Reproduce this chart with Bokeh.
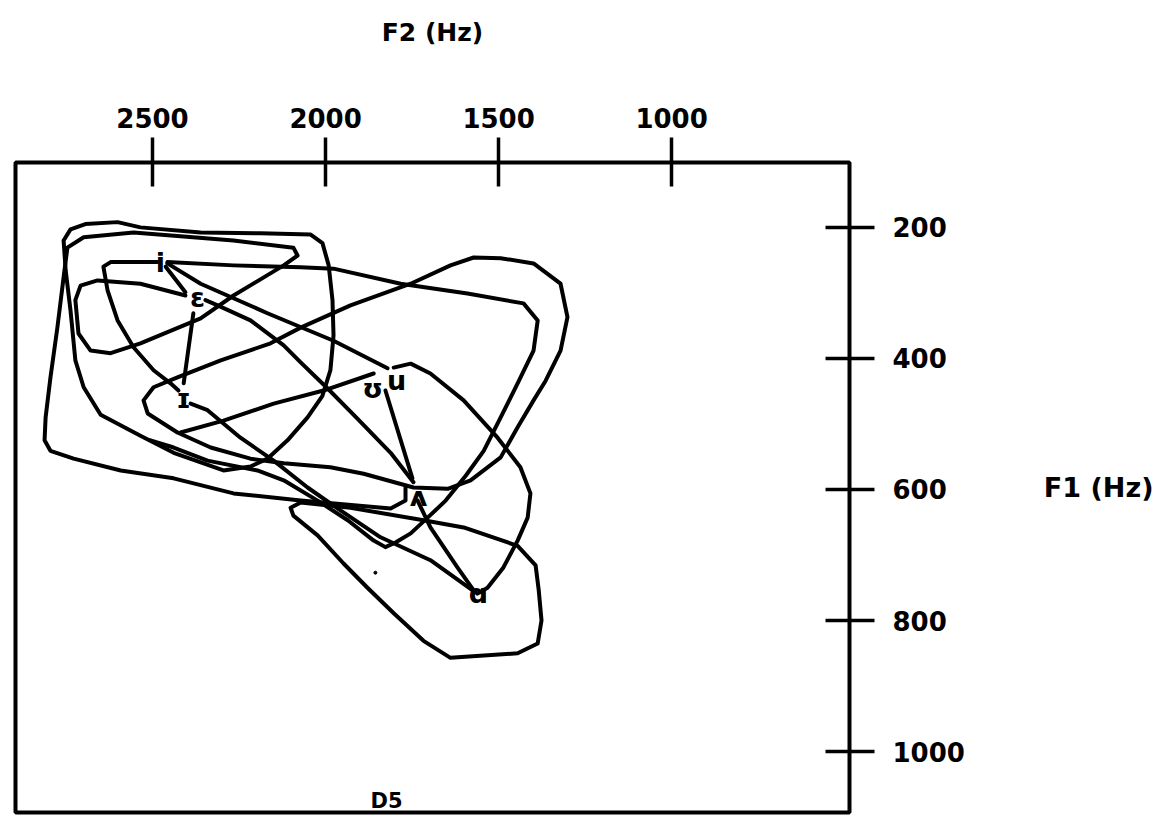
from bokeh.plotting import figure
from bokeh.models import Range1d, FixedTicker, Label, ColumnDataSource
from bokeh.embed import file_html
from bokeh.resources import INLINE
from bokeh.core.properties import value

# ---- axes ----
F2_TICKS = [2500, 2000, 1500, 1000]
F1_TICKS = [200, 400, 600, 800, 1000]

# ---- vowel labels (F2 Hz, F1 Hz) ----
vowel_sym = ["i", "ε", "ɪ", "ʊ", "u", "ʌ", "ɑ"]
vowel_f2 = [2477, 2370, 2410, 1864, 1795, 1731, 1558]
vowel_f1 = [253, 307, 461, 446, 434, 611, 759]

# ---- traced contours (F2 Hz, F1 Hz) ----
loop_a_f2 = [2757, 2737, 2694, 2601, 2535, 2361, 2188, 2043, 2009, 1991, 1980, 1977, 1986,
             2009, 2052, 2110, 2168, 2217, 2295, 2439, 2535, 2650, 2699, 2723, 2737, 2751, 2757]
loop_a_f1 = [220, 203, 195, 192, 200, 208, 209, 211, 224, 258, 311, 365, 418,
             457, 490, 525, 553, 565, 571, 544, 518, 486, 444, 403, 327, 266, 220]

path_b_f2 = [2405, 2535, 2659, 2708, 2723, 2714, 2679, 2621, 2535, 2361, 2266, 2121, 2081, 2093,
             2266, 2555, 2699, 2746, 2757, 2775, 2795, 2809, 2812, 2795, 2728, 2592, 2439, 2266,
             2072, 1812, 1769, 1769]
path_b_f1 = [304, 286, 281, 289, 311, 362, 388, 392, 377, 339, 304, 258, 243, 231,
             220, 208, 215, 231, 276, 353, 429, 490, 525, 541, 553, 571, 583, 606,
             617, 629, 617, 597]

loop_c_f2 = [2428, 2514, 2526, 2497, 2428, 2303, 2159, 2072, 1928, 1754, 1639, 1572, 1494, 1399,
             1321, 1301, 1321, 1364, 1399, 1445, 1494, 1581, 1647, 1746, 1890, 1986, 2121, 2217,
             2332, 2428]
loop_c_f1 = [513, 484, 464, 444, 429, 403, 377, 353, 319, 286, 258, 246, 247, 255,
             286, 337, 388, 434, 464, 505, 551, 586, 599, 597, 576, 566, 560, 553,
             536, 513]

path_d_f2 = [2457, 2266, 2072, 1977, 1783, 1590, 1428, 1387, 1399, 1445, 1494, 1543, 1595, 1653,
             1705, 1754, 1798, 1827, 1861, 1936, 2023, 2121, 2197, 2341, 2439, 2506]
path_d_f1 = [253, 258, 261, 263, 286, 301, 316, 342, 388, 438, 490, 541, 579, 617,
             643, 667, 681, 688, 678, 647, 617, 586, 571, 556, 536, 525]

path_e_f2 = [2486, 2621, 2642, 2630, 2601, 2555, 2497, 2448, 2425]
path_e_f1 = [253, 253, 260, 296, 342, 383, 418, 438, 449]

i_eps_f2 = [2462, 2405]
i_eps_f1 = [260, 299]

i_u_f2 = [2457, 2361, 2168, 1977, 1821]
i_u_f1 = [255, 286, 331, 373, 415]

eps_wedge_f2 = [2347, 2312, 2217, 2121, 2072, 1994, 1908, 1812, 1746]
eps_wedge_f1 = [311, 319, 342, 380, 406, 446, 492, 544, 589]

eps_ih_f2 = [2382, 2410]
eps_ih_f1 = [331, 438]

hook_wedge_f2 = [1827, 1749]
hook_wedge_f1 = [449, 583]

hook_left_f2 = [1861, 2006, 2150, 2295, 2419]
hook_left_f1 = [423, 449, 469, 495, 513]

u_a_f2 = [1803, 1754, 1697, 1601, 1503, 1437, 1408, 1416, 1445, 1486, 1532, 1561]
u_a_f1 = [414, 408, 423, 464, 521, 566, 606, 643, 678, 719, 750, 759]

wedge_a_f2 = [1734, 1697, 1619, 1572]
wedge_a_f1 = [617, 658, 719, 754]

ih_a_f2 = [2390, 2341, 2246, 2150, 2052, 1957, 1841, 1697, 1567]
ih_a_f1 = [469, 479, 521, 556, 597, 632, 673, 708, 757]

loop_a2_f2 = [2101, 2093, 2023, 1948, 1879, 1803, 1717, 1639, 1445, 1387, 1376, 1384, 1393,
              1445, 1601, 1717, 1928, 2072, 2101]
loop_a2_f1 = [628, 640, 670, 713, 750, 789, 831, 857, 850, 835, 800, 754, 716,
              686, 658, 647, 628, 620, 628]

stray_f2 = [1856]
stray_f1 = [727]

strokes = [
    (loop_a_f2, loop_a_f1), (path_b_f2, path_b_f1), (loop_c_f2, loop_c_f1),
    (path_d_f2, path_d_f1), (path_e_f2, path_e_f1), (i_eps_f2, i_eps_f1),
    (i_u_f2, i_u_f1), (eps_wedge_f2, eps_wedge_f1), (eps_ih_f2, eps_ih_f1),
    (hook_wedge_f2, hook_wedge_f1), (hook_left_f2, hook_left_f1), (u_a_f2, u_a_f1),
    (wedge_a_f2, wedge_a_f1), (ih_a_f2, ih_a_f1), (loop_a2_f2, loop_a2_f1),
]

FONT = "DejaVu Sans"

p = figure(width=1174, height=815,
           x_range=Range1d(2896, 486), y_range=Range1d(1093, 101),
           x_axis_location="above", y_axis_location="right",
           output_backend="svg", toolbar_location=None,
           min_border_left=15, min_border_right=325,
           min_border_top=162, min_border_bottom=3)
p.grid.visible = False
p.background_fill_color = "white"
p.border_fill_color = "white"
p.outline_line_color = "black"
p.outline_line_width = 4
p.outline_line_alpha = 1.0

for ax in (p.xaxis[0], p.yaxis[0]):
    ax.axis_line_color = None
    ax.major_tick_in = 24
    ax.major_tick_out = 25
    ax.major_tick_line_width = 3.5
    ax.major_tick_line_color = "black"
    ax.minor_tick_line_color = None
    ax.major_label_text_font = FONT
    ax.major_label_text_font_style = "bold"
    ax.major_label_text_font_size = "26px"
    ax.major_label_text_color = "black"
    ax.axis_label_text_font = FONT
    ax.axis_label_text_font_style = "bold"
    ax.axis_label_text_color = "black"

p.xaxis.ticker = FixedTicker(ticks=F2_TICKS)
p.yaxis.ticker = FixedTicker(ticks=F1_TICKS)
p.xaxis.major_label_standoff = 10
p.yaxis.major_label_standoff = 18

p.xaxis.axis_label = "F2 (Hz)"
p.xaxis.axis_label_standoff = 58
p.xaxis.axis_label_text_font_size = "25px"

p.yaxis.axis_label = "F1 (Hz)"
p.yaxis.axis_label_orientation = "horizontal"
p.yaxis.axis_label_standoff = 76
p.yaxis.axis_label_text_font_size = "27px"

for xs, ys in strokes:
    p.line(xs, ys, line_color="black", line_width=4,
           line_join="round", line_cap="round")

p.scatter(stray_f2, stray_f1, size=3, color="black")

src = ColumnDataSource(dict(x=vowel_f2, y=vowel_f1, t=vowel_sym))
p.text(x="x", y="y", text="t", source=src, text_font=value(FONT),
       text_font_style="bold", text_font_size="27px", text_color="black",
       text_align="center", text_baseline="middle")

p.add_layout(Label(x=1824, y=1076, text="D5", text_font=FONT,
                   text_font_style="bold", text_font_size="21px",
                   text_align="center", text_baseline="middle", text_color="black"))

open("out.html", "w").write(file_html(p, INLINE))
